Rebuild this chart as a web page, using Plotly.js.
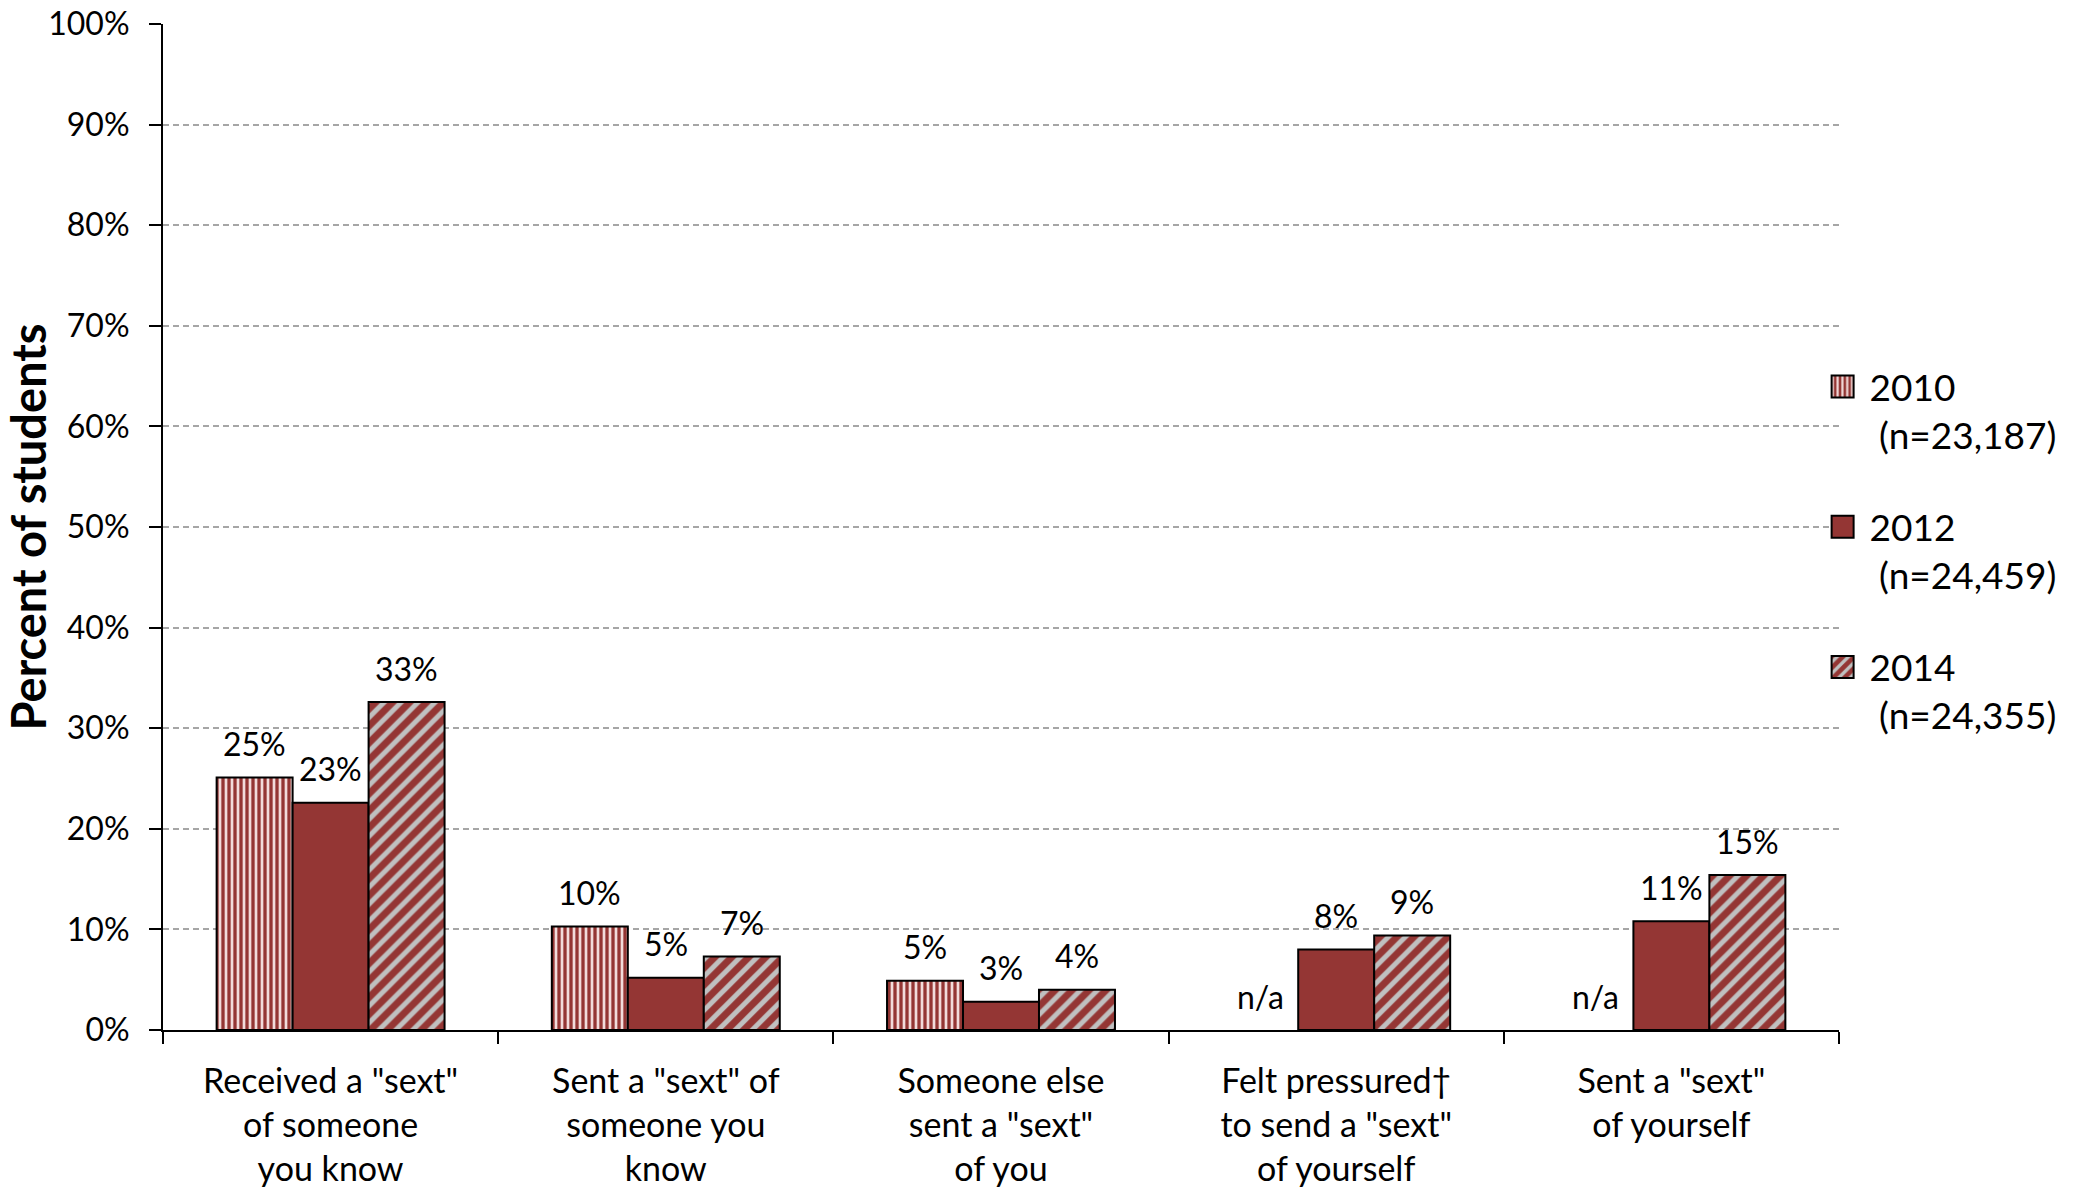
<!DOCTYPE html>
<html>
<head>
<meta charset="utf-8">
<script src="https://cdn.plot.ly/plotly-3.0.1.min.js"></script>
<style>
  html, body { margin: 0; padding: 0; background: #ffffff; }
  #chart { width: 2074px; height: 1192px; }
</style>
</head>
<body>
<div id="chart"></div>
<script>
// ---- data ----
const categories = [
  'Received a "sext"<br>of someone<br>you know',
  'Sent a "sext" of<br>someone you<br>know',
  'Someone else<br>sent a "sext"<br>of you',
  'Felt pressured†<br>to send a "sext"<br>of yourself',
  'Sent a "sext"<br>of yourself'
];
const values2010 = [25.1, 10.3, 4.9, null, null];
const values2012 = [22.6, 5.2, 2.8, 8.0, 10.8];
const values2014 = [32.6, 7.3, 4.0, 9.4, 15.4];
const labels2010 = ['25%', '10%', '5%', 'n/a', 'n/a'];
const labels2012 = ['23%', '5%', '3%', '8%', '11%'];
const labels2014 = ['33%', '7%', '4%', '9%', '15%'];
const seriesNames = ['2010<br>\u00a0(n=23,187)', '2012<br>\u00a0(n=24,459)', '2014<br>\u00a0(n=24,355)'];
const yTickVals = [0, 10, 20, 30, 40, 50, 60, 70, 80, 90, 100];
const yTickText = ['0%', '10%', '20%', '30%', '40%', '50%', '60%', '70%', '80%', '90%', '100%'];

// ---- styling / geometry ----
const FONT = 'Lato, Carlito, Calibri, "Open Sans", sans-serif';
const DARK = '#943634';
const LIGHT = '#f2dcdb';
const GREY = '#c0c0c0';
const W = 2074, H = 1192;
const M = { l: 163, r: 233, t: 24, b: 162 };
const BARGAP = 0.32;
const barLine = { color: '#000000', width: 2 };
const labelFont = { family: FONT, size: 32, color: '#000000' };

const plotW = W - M.l - M.r;
const barPx = (plotW / categories.length) * (1 - BARGAP) / 3;

const traces = [
  {
    type: 'bar', name: seriesNames[0], x: categories, y: values2010,
    legendgroup: 'a',
    marker: { color: DARK, line: barLine,
      pattern: { shape: '|', bgcolor: DARK, fgcolor: LIGHT, size: 6, solidity: 0.45, fillmode: 'replace' } },
    hoverinfo: 'skip'
  },
  {
    type: 'bar', name: seriesNames[1], x: categories, y: values2012,
    legendgroup: 'b',
    marker: { color: DARK, line: barLine },
    hoverinfo: 'skip'
  },
  {
    type: 'bar', name: seriesNames[2], x: categories, y: values2014,
    legendgroup: 'c',
    marker: { color: DARK, line: barLine,
      pattern: { shape: '/', bgcolor: DARK, fgcolor: GREY, size: 12, solidity: 0.42, fillmode: 'replace' } },
    hoverinfo: 'skip'
  }
];

// value labels above bars (n/a where a series has no value)
const annotations = [];
[[values2010, labels2010], [values2012, labels2012], [values2014, labels2014]].forEach(function (pair, j) {
  const vals = pair[0], labs = pair[1];
  vals.forEach(function (v, i) {
    if (!labs[i]) return;
    annotations.push({
      x: categories[i], y: v === null ? 0 : v, xref: 'x', yref: 'y',
      text: labs[i], showarrow: false, xanchor: 'center', yanchor: 'middle',
      xshift: (j - 1) * barPx, yshift: 34, font: labelFont
    });
  });
});

const layout = {
  width: W, height: H,
  margin: { l: M.l, r: M.r, t: M.t, b: M.b, pad: 0 },
  paper_bgcolor: '#ffffff', plot_bgcolor: '#ffffff',
  font: { family: FONT, color: '#000000' },
  barmode: 'group', bargap: BARGAP, bargroupgap: 0,
  showlegend: true,
  legend: {
    x: 0.9944, xanchor: 'left', y: 0.67, yanchor: 'top',
    font: { family: FONT, size: 37, color: '#000000' },
    valign: 'top', traceorder: 'grouped', tracegroupgap: 41,
    bgcolor: 'rgba(0,0,0,0)', itemwidth: 30
  },
  xaxis: {
    type: 'category', tickson: 'boundaries',
    ticks: 'outside', ticklen: 12, tickwidth: 2, tickcolor: '#000000',
    showline: true, linecolor: '#000000', linewidth: 2,
    showgrid: false, zeroline: false,
    tickfont: { family: FONT, size: 34, color: '#000000' },
    ticklabelstandoff: 20
  },
  yaxis: {
    range: [0, 100], tickvals: yTickVals, ticktext: yTickText,
    ticks: 'outside', ticklen: 12, tickwidth: 2, tickcolor: '#000000',
    showline: true, linecolor: '#000000', linewidth: 2,
    showgrid: true, gridcolor: '#a6a6a6', gridwidth: 2, griddash: '6px,4px',
    zeroline: false,
    tickfont: { family: FONT, size: 32, color: '#000000' },
    ticklabelstandoff: 13,
    title: { text: '<b>Percent of students</b>', font: { family: FONT, size: 47, color: '#000000' }, standoff: 19 }
  },
  annotations: annotations
};

Plotly.newPlot('chart', traces, layout, { displayModeBar: false, staticPlot: true }).then(function (gd) {
  // enlarge legend swatches (default 12px) to the reference's ~22px keys, leaving a gap before the text
  gd.querySelectorAll('.legend .legendpoints path').forEach(function (p) {
    p.setAttribute('d', 'M4,11H-18V-11H4Z');
  });
});
</script>
</body>
</html>
